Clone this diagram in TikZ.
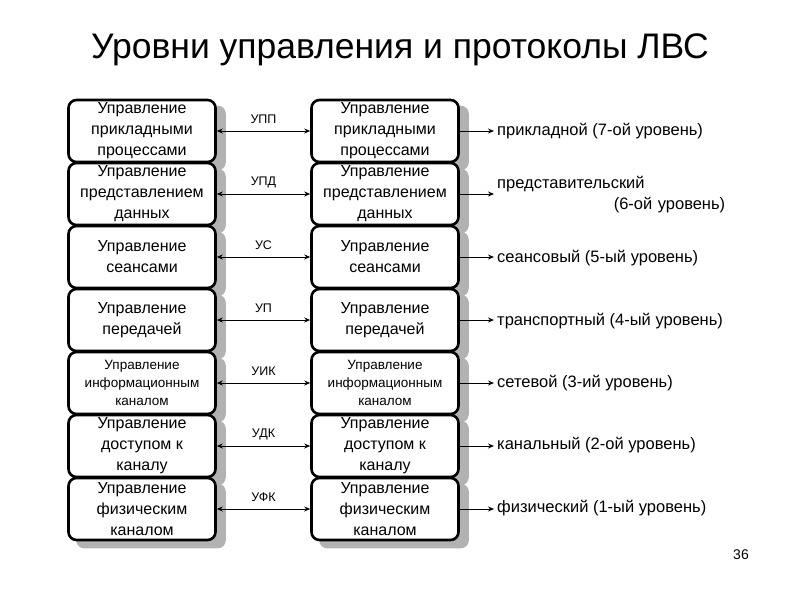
\documentclass[tikz,border=0pt]{standalone}
\usepackage{fontspec}
\setmainfont{Liberation Sans}
\usetikzlibrary{arrows.meta,backgrounds,calc}
\tikzset{
  lay/.style={draw=black, line width=2.6pt, rounded corners=8pt, fill=white,
    minimum width=147pt, minimum height=62pt, align=center, inner sep=0pt,
    font=\fontsize{16}{21}\selectfont},
  laysmall/.style={lay, font=\fontsize{13.5}{18}\selectfont},
  shad/.style={fill=black!30, rounded corners=8pt},
  both/.style={line width=0.8pt, {Stealth[length=6pt,width=5pt]}-{Stealth[length=6pt,width=5pt]}},
  conn/.style={line width=0.8pt, -{Stealth[length=6pt,width=5pt]}},
  proto/.style={font=\fontsize{12.5}{15}\selectfont, inner sep=1pt},
  lvl/.style={anchor=west, inner sep=3pt, font=\fontsize{16.5}{21}\selectfont}
}
\begin{document}
\begin{tikzpicture}[x=1pt,y=-1pt]
\useasboundingbox (0,0) rectangle (800,600);
\node (title) at (400,50) {\fontsize{35.5}{40}\selectfont Уровни управления и протоколы ЛВС};

% left column
\node[lay] (L1) at (142,131) {Управление\\прикладными\\процессами};
\node[lay] (L2) at (142,194) {Управление\\представлением\\данных};
\node[lay] (L3) at (142,257) {Управление\\сеансами};
\node[lay] (L4) at (142,320) {Управление\\передачей};
\node[laysmall] (L5) at (142,383) {Управление\\информационным\\каналом};
\node[lay] (L6) at (142,446) {Управление\\доступом к\\каналу};
\node[lay] (L7) at (142,509) {Управление\\физическим\\каналом};

% right column
\node[lay] (R1) at (385,131) {Управление\\прикладными\\процессами};
\node[lay] (R2) at (385,194) {Управление\\представлением\\данных};
\node[lay] (R3) at (385,257) {Управление\\сеансами};
\node[lay] (R4) at (385,320) {Управление\\передачей};
\node[laysmall] (R5) at (385,383) {Управление\\информационным\\каналом};
\node[lay] (R6) at (385,446) {Управление\\доступом к\\каналу};
\node[lay] (R7) at (385,509) {Управление\\физическим\\каналом};

\begin{scope}[on background layer]
  \foreach \n in {L1,L2,L3,L4,L5,L6,L7,R1,R2,R3,R4,R5,R6,R7}{
    \fill[shad] ([shift={(9,7)}]\n.north west) rectangle ([shift={(9,7)}]\n.south east);
  }
\end{scope}

% protocols
\foreach \i/\t in {1/УПП,2/УПД,3/УС,4/УП,5/УИК,6/УДК,7/УФК}{
  \draw[both] (L\i.east) -- (R\i.west);
  \node[proto] (p\i) at ($(L\i.east)!0.5!(R\i.west)+(0,-12)$) {\t};
}

% levels
\node[lvl] (t1) at (494,131) {прикладной (7-ой уровень)};
\node[lvl, text width=228pt, align=left] (t2) at (494,195) {представительский\\\hspace*{\fill}(6-ой уровень)};
\node[lvl] (t3) at (494,258) {сеансовый (5-ый уровень)};
\node[lvl] (t4) at (494,321) {транспортный (4-ый уровень)};
\node[lvl] (t5) at (494,383) {сетевой (3-ий уровень)};
\node[lvl] (t6) at (494,445) {канальный (2-ой уровень)};
\node[lvl] (t7) at (494,508) {физический (1-ый уровень)};
\foreach \i in {1,...,7}{
  \draw[conn] (R\i.east) -- (R\i.east -| t\i.west);
}

\node (pg) at (741,555) {\fontsize{14}{16}\selectfont 36};
\end{tikzpicture}
\end{document}
